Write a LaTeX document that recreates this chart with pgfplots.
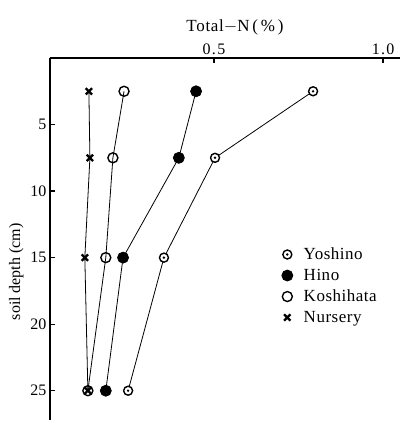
\documentclass[border=0pt]{standalone}
\usepackage{pgfplots}
\pgfplotsset{compat=1.18}
\usepackage{fontspec}
\setmainfont{Liberation Serif}
\pgfdeclareplotmark{odot}{%
  \pgfpathcircle{\pgfpointorigin}{\pgfplotmarksize}%
  \pgfusepathqfillstroke
  \begin{pgfscope}
  \pgfsetfillcolor{black}%
  \pgfpathcircle{\pgfpointorigin}{0.3\pgfplotmarksize}%
  \pgfusepathqfill
  \end{pgfscope}}
\pgfplotsset{markleg/.style={legend image code/.code={%
  \path (0pt,0pt) (18pt,0pt);
  \draw[##1, only marks] plot coordinates {(4pt,0pt)};}}}
\begin{document}
\begin{tikzpicture}
\begin{axis}[
  scale only axis, width=350pt, height=362pt,
  xmin=0.015, xmax=1.05, ymin=0, ymax=27.2,
  y dir=reverse,
  axis x line*=top, axis y line*=left,
  axis line style={line width=1.6pt},
  tick align=inside, tick style={line width=1.2pt, black}, major tick length=5pt,
  xtick={0.5,1.0}, xticklabels={0.5,1.0},
  ytick={5,10,15,20,25},
  /pgf/number format/assume math mode=true,
  tick label style={font=\fontsize{16}{18}\selectfont},
  xticklabel style={font=\fontsize{16}{18}\selectfont\addfontfeatures{LetterSpace=8}},
  xlabel={Total$-$N\,(\,\%\,)},
  xlabel style={font=\fontsize{17}{19}\selectfont\addfontfeatures{LetterSpace=4}, yshift=2pt, xshift=10pt},
  ylabel={soil depth (cm)},
  ylabel style={font=\fontsize{16}{18}\selectfont, at={(ticklabel cs:0.415)}, xshift=-2pt},
  legend style={at={(axis cs:0.7,14.1)}, anchor=north west, draw=none, fill=none,
    font=\fontsize{17}{19}\selectfont\addfontfeatures{LetterSpace=3}, row sep=4pt, inner sep=0pt},
  legend cell align=left,
  clip=false,
]
\addplot[black, line width=0.8pt, mark=odot, mark size=4.5pt,
  mark options={line width=1.4pt, fill=white}, markleg]
  coordinates {(0.793,2.5) (0.503,7.5) (0.352,15) (0.246,25)};
\addlegendentry{Yoshino}
\addplot[black, line width=0.8pt, mark=*, mark size=5.5pt, markleg]
  coordinates {(0.447,2.5) (0.396,7.5) (0.231,15) (0.180,25)};
\addlegendentry{Hino}
\addplot[black, line width=0.8pt, mark=o, mark size=5pt,
  mark options={line width=1.4pt, fill=white}, markleg]
  coordinates {(0.234,2.5) (0.201,7.5) (0.180,15) (0.127,25)};
\addlegendentry{Koshihata}
\addplot[black, line width=0.8pt, mark=x, mark size=4.5pt,
  mark options={line width=2.3pt}, markleg]
  coordinates {(0.130,2.5) (0.133,7.5) (0.118,15) (0.127,25)};
\addlegendentry{Nursery}
\end{axis}
\pgfresetboundingbox
\path ([shift={(-50pt,58pt)}]current axis.north west) rectangle ([shift={(6pt,-6pt)}]current axis.south east);
\end{tikzpicture}
\end{document}
